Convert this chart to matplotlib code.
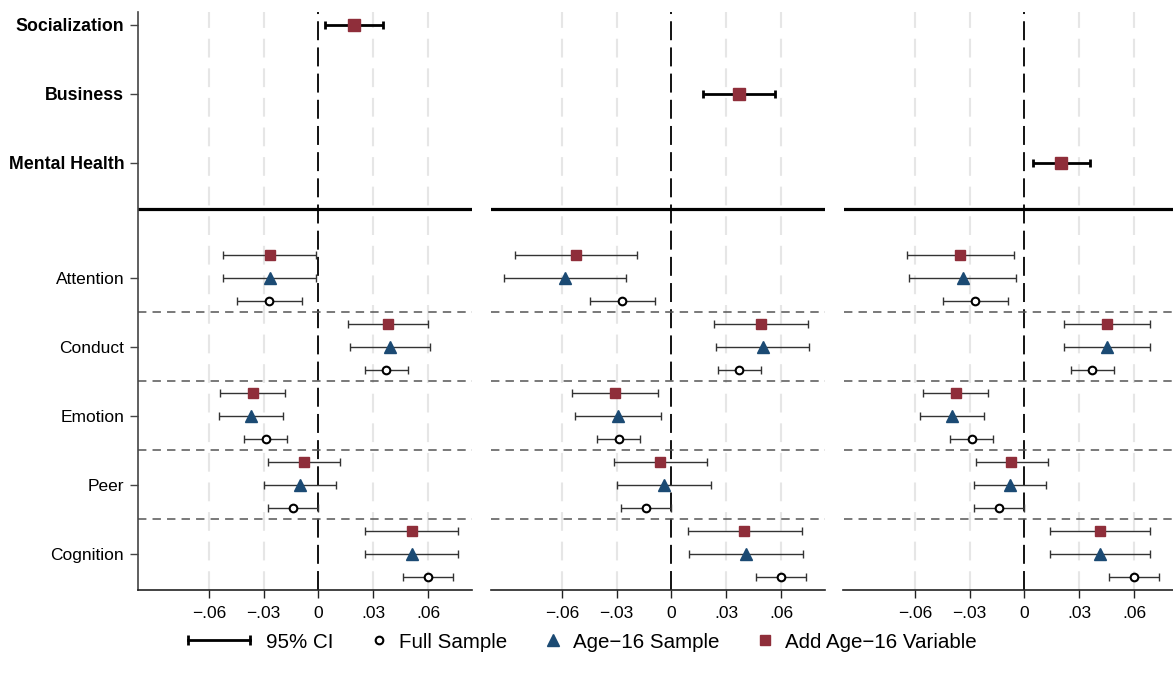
import matplotlib
matplotlib.use("Agg")
import matplotlib.pyplot as plt
from matplotlib.lines import Line2D
from matplotlib.legend_handler import HandlerBase

plt.rcParams['font.family'] = ['Liberation Sans', 'DejaVu Sans']

# ---------------- data ----------------
outcomes = ['Socialization', 'Business', 'Mental Health']
top_est = [0.0193, 0.0370, 0.0198]
top_lo = [0.0034, 0.0175, 0.0044]
top_hi = [0.0353, 0.0568, 0.0358]

domains = ['Attention', 'Conduct', 'Emotion', 'Peer', 'Cognition']

# Full sample (same in each panel)
full_est = [-0.0270, 0.0369, -0.0289, -0.0140, 0.0600]
full_lo = [-0.0443, 0.0254, -0.0407, -0.0276, 0.0463]
full_hi = [-0.0092, 0.0488, -0.0172, 0.0000, 0.0738]

# Age-16 sample, one list per panel
age16_est = [[-0.0266, 0.0392, -0.0371, -0.0101, 0.0511],
             [-0.0580, 0.0500, -0.0290, -0.0040, 0.0408],
             [-0.0337, 0.0452, -0.0397, -0.0078, 0.0413]]
age16_lo = [[-0.0520, 0.0175, -0.0546, -0.0298, 0.0257],
            [-0.0914, 0.0244, -0.0526, -0.0296, 0.0096],
            [-0.0632, 0.0217, -0.0574, -0.0275, 0.0139]]
age16_hi = [[-0.0011, 0.0608, -0.0194, 0.0098, 0.0766],
            [-0.0246, 0.0755, -0.0055, 0.0215, 0.0722],
            [-0.0046, 0.0688, -0.0222, 0.0119, 0.0686]]

# Add age-16 variable, one list per panel
addv_est = [[-0.0266, 0.0381, -0.0358, -0.0079, 0.0511],
            [-0.0522, 0.0491, -0.0309, -0.0062, 0.0397],
            [-0.0350, 0.0449, -0.0377, -0.0071, 0.0411]]
addv_lo = [[-0.0520, 0.0164, -0.0536, -0.0276, 0.0257],
           [-0.0854, 0.0235, -0.0546, -0.0316, 0.0088],
           [-0.0642, 0.0217, -0.0556, -0.0264, 0.0139]]
addv_hi = [[-0.0011, 0.0597, -0.0183, 0.0117, 0.0766],
           [-0.0188, 0.0746, -0.0073, 0.0195, 0.0713],
           [-0.0055, 0.0688, -0.0202, 0.0128, 0.0686]]

xticks = [-0.06, -0.03, 0.0, 0.03, 0.06]
xtick_labels = ['\u2212.06', '\u2212.03', '0', '.03', '.06']

# ---------------- layout ----------------
RED = '#8f2e3a'
BLUE = '#1b4a73'
top_y = [0, 1, 2]
sep_solid = 2.667
dom_y = [3.667, 4.667, 5.667, 6.667, 7.667]
off_sq, off_tr, off_ci = -0.33, 0.0, 0.33

W, H = 1173, 683
fig = plt.figure(figsize=(W / 100, H / 100), dpi=100)
lefts = [137.5, 490.5, 843.5]
axw = 334.5
bottom_px, top_px = 590, 11.7
axes = []
for i, lp in enumerate(lefts):
    ax = fig.add_axes([lp / W, 1 - bottom_px / H, axw / W, (bottom_px - top_px) / H])
    axes.append(ax)

def yerr_pair(est, lo, hi):
    return [[e - l for e, l in zip(est, lo)], [h - e for e, h in zip(est, hi)]]

for i, ax in enumerate(axes):
    ax.set_xlim(-0.099, 0.084)
    ax.set_ylim(8.19, -0.19)
    # grid lines
    for t in xticks:
        if t != 0:
            ax.axvline(t, color='#e6e6e6', lw=1.5, ls=(0, (9.0, 5.2)), zorder=0)
    ax.axvline(0, color='black', lw=1.3, ls=(0, (10.5, 4.0)), zorder=1)
    # separators
    ax.axhline(sep_solid, color='black', lw=2.3, zorder=2)
    for k in range(len(dom_y) - 1):
        ax.axhline((dom_y[k] + dom_y[k + 1]) / 2, color='#555555', lw=1.1,
                   ls=(0, (5.5, 4.0)), zorder=1)

    # top outcome
    ax.errorbar([top_est[i]], [top_y[i]],
                xerr=[[top_est[i] - top_lo[i]], [top_hi[i] - top_est[i]]],
                fmt='none', ecolor='black', elinewidth=2.0, capsize=3.2, capthick=2.0, zorder=3)
    ax.plot([top_est[i]], [top_y[i]], 's', color=RED, ms=9, zorder=4)

    # domains
    ys_sq = [y + off_sq for y in dom_y]
    ys_tr = [y + off_tr for y in dom_y]
    ys_ci = [y + off_ci for y in dom_y]
    ekw = dict(fmt='none', ecolor='#333333', elinewidth=1.0, capsize=3.0, capthick=1.0, zorder=3)
    ax.errorbar(addv_est[i], ys_sq, xerr=yerr_pair(addv_est[i], addv_lo[i], addv_hi[i]), **ekw)
    ax.errorbar(age16_est[i], ys_tr, xerr=yerr_pair(age16_est[i], age16_lo[i], age16_hi[i]), **ekw)
    ax.errorbar(full_est, ys_ci, xerr=yerr_pair(full_est, full_lo, full_hi), **ekw)
    ax.plot(addv_est[i], ys_sq, 's', color=RED, ms=6.8, ls='none', zorder=4)
    ax.plot(age16_est[i], ys_tr, '^', color=BLUE, ms=8, ls='none', zorder=4)
    ax.plot(full_est, ys_ci, 'o', mfc='white', mec='black', mew=1.5, ms=5.5, ls='none', zorder=4)

    # axes styling
    ax.set_xticks(xticks)
    ax.set_xticklabels(xtick_labels, fontsize=12.5)
    ax.tick_params(axis='x', length=5.8, width=1.0, pad=5.5, color='#222222')
    for s in ['top', 'right']:
        ax.spines[s].set_visible(False)
    ax.spines['bottom'].set_linewidth(1.2)
    ax.spines['bottom'].set_color('#222222')
    if i == 0:
        ax.spines['left'].set_linewidth(1.2)
        ax.spines['left'].set_color('#444444')
        ax.set_yticks(top_y + dom_y)
        ax.set_yticklabels(outcomes + domains, fontsize=12.5)
        for lab in ax.get_yticklabels()[:3]:
            lab.set_fontweight('bold')
            lab.set_fontsize(12.8)
        ax.tick_params(axis='y', length=5.8, width=1.0, pad=3.8, color='#444444')
    else:
        ax.spines['left'].set_visible(False)
        ax.set_yticks([])

# ---------------- legend ----------------
class CIHandler(HandlerBase):
    def create_artists(self, legend, orig_handle, xdescent, ydescent, width, height, fontsize, trans):
        y = height / 2 - ydescent
        xr = width - xdescent - 4.5
        xl = xr - 44.6
        ln = Line2D([xl, xr], [y, y], color='black', lw=2.0)
        c1 = Line2D([xl], [y], marker='|', ms=6.5, mew=2.0, color='black')
        c2 = Line2D([xr], [y], marker='|', ms=6.5, mew=2.0, color='black')
        for a in (ln, c1, c2):
            a.set_transform(trans)
        return [ln, c1, c2]

ci_handle = Line2D([], [], color='black')
h_full = Line2D([], [], marker='o', ls='none', mfc='white', mec='black', mew=1.5, ms=5.5)
h_age = Line2D([], [], marker='^', ls='none', color=BLUE, ms=8)
h_add = Line2D([], [], marker='s', ls='none', color=RED, ms=6.8)
fig.legend([ci_handle, h_full, h_age, h_add],
           ['95% CI', 'Full Sample', 'Age\u221216 Sample', 'Add Age\u221216 Variable'],
           handler_map={ci_handle: CIHandler()},
           loc='center', bbox_to_anchor=(0.5167, 1 - 642 / H), ncol=4, frameon=False,
           fontsize=14.8, handlelength=1.0, handletextpad=0.47, columnspacing=1.72)

fig.savefig('out.png', dpi=100)
